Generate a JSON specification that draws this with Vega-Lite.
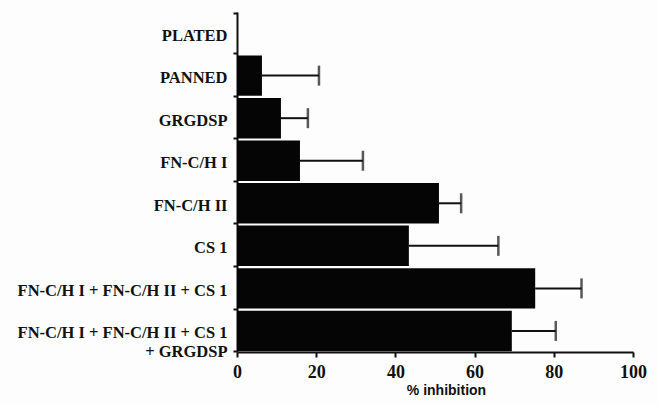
{
  "$schema": "https://vega.github.io/schema/vega-lite/v6.json",
  "width": 396,
  "height": 340,
  "autosize": "none",
  "padding": {"left": 237, "top": 12, "right": 25, "bottom": 53},
  "background": "#fdfdfd",
  "config": {"view": {"stroke": null}},
  "data": {
    "values": [
      {"group": "PLATED", "value": 0, "upper": null},
      {"group": "PANNED", "value": 6.3, "upper": 20.7},
      {"group": "GRGDSP", "value": 11.1, "upper": 17.9},
      {"group": "FN-C/H I", "value": 15.9, "upper": 31.8},
      {"group": "FN-C/H II", "value": 51, "upper": 56.6},
      {"group": "CS 1", "value": 43.4, "upper": 66},
      {"group": "FN-C/H I + FN-C/H II + CS 1", "value": 75.3, "upper": 87},
      {"group": "FN-C/H I + FN-C/H II + CS 1|+ GRGDSP", "value": 69.4, "upper": 80.5}
    ]
  },
  "encoding": {
    "y": {
      "field": "group",
      "type": "nominal",
      "sort": null,
      "scale": {"paddingInner": 0.05, "paddingOuter": 0.02},
      "axis": {
        "title": null,
        "labelExpr": "split(datum.label, '|')",
        "labelFont": "Liberation Serif",
        "labelFontWeight": "bold",
        "labelFontSize": 16.5,
        "labelColor": "#111",
        "labelPadding": 6,
        "labelLimit": 300,
        "tickBand": "extent",
        "tickSize": 4,
        "tickWidth": 2,
        "tickColor": "#111",
        "domainColor": "#111",
        "domainWidth": 2,
        "labelLineHeight": 19,
        "labelOffset": 2
      }
    }
  },
  "layer": [
    {
      "mark": {"type": "bar", "color": "#050505"},
      "encoding": {
        "x": {
          "field": "value",
          "type": "quantitative",
          "scale": {"domain": [0, 100], "nice": false},
          "axis": {
            "title": "% inhibition",
            "values": [0, 10, 20, 30, 40, 50, 60, 70, 80, 90, 100],
            "labelExpr": "datum.value % 20 === 0 ? datum.label : ''",
            "grid": false,
            "labelFont": "Liberation Serif",
            "labelFontWeight": "bold",
            "labelFontSize": 18,
            "labelColor": "#111",
            "labelPadding": 6,
            "tickSize": 5,
            "tickWidth": 2,
            "tickColor": "#111",
            "domainColor": "#111",
            "domainWidth": 2,
            "titleFont": "Liberation Sans",
            "titleFontWeight": "bold",
            "titleFontSize": 14,
            "titleColor": "#111",
            "titlePadding": 2,
            "titleX": 209,
            "labelFlush": false
          }
        }
      }
    },
    {
      "transform": [{"filter": "datum.upper != null"}],
      "mark": {"type": "rule", "color": "#111", "strokeWidth": 2},
      "encoding": {
        "x": {"field": "value", "type": "quantitative"},
        "x2": {"field": "upper"}
      }
    },
    {
      "transform": [{"filter": "datum.upper != null"}],
      "mark": {"type": "tick", "color": "#111", "thickness": 2.5, "size": 20},
      "encoding": {
        "x": {"field": "upper", "type": "quantitative"}
      }
    }
  ]
}
